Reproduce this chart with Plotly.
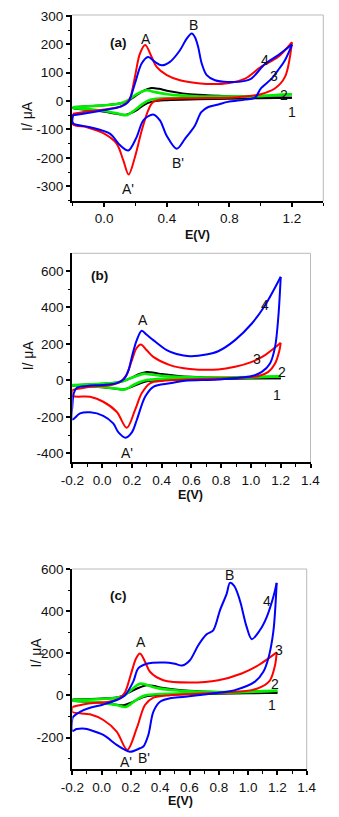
import plotly.graph_objects as go

# ---------------- Panel (a) data ----------------
A1_FWD_E = [-0.2, 0.0, 0.1, 0.15, 0.2, 0.25, 0.3, 0.35, 0.4, 0.5, 0.6, 0.8, 1.0, 1.2]
A1_FWD_I = [-21, -15, -9, 0, 18, 36, 46, 43, 36, 27, 22, 17, 14, 12]
A1_REV_E = [1.2, 1.0, 0.8, 0.6, 0.4, 0.3, 0.25, 0.2, 0.14, 0.08, 0.0, -0.1, -0.2]
A1_REV_I = [12, 10, 8, 6, 3, -3, -15, -35, -48, -45, -38, -31, -25]

A2_FWD_E = [-0.2, 0.0, 0.1, 0.15, 0.2, 0.27, 0.32, 0.4, 0.5, 0.6, 0.8, 1.0, 1.2]
A2_FWD_I = [-22, -15, -9, 2, 22, 38, 32, 24, 19, 16, 16, 18, 24]
A2_REV_E = [1.2, 1.0, 0.8, 0.6, 0.4, 0.3, 0.25, 0.2, 0.143, 0.08, 0.0, -0.1, -0.2]
A2_REV_I = [24, 18, 14, 12, 10, 5, -8, -30, -50, -43, -35, -28, -24]

A3_FWD_E = [-0.2, -0.1, 0.0, 0.1, 0.14, 0.164, 0.196, 0.228, 0.262, 0.303, 0.335, 0.4, 0.484, 0.6, 0.7, 0.79, 0.9, 1.0, 1.11, 1.2]
A3_FWD_I = [-45, -36, -30, -20, -8, 8, 85, 167, 197, 155, 120, 91, 73, 63, 60, 63, 79, 120, 155, 207]
A3_REV_E = [1.2, 1.155, 1.09, 1.0, 0.9, 0.79, 0.58, 0.4, 0.313, 0.281, 0.24, 0.196, 0.156, 0.122, 0.079, 0.0, -0.11, -0.2]
A3_REV_I = [207, 85, 44, 24, 16, 12, 10, 8, -3, -33, -103, -198, -259, -209, -150, -115, -92, -82]

A4_FWD_E = [-0.2, -0.03, 0.11, 0.154, 0.196, 0.239, 0.28, 0.324, 0.367, 0.42, 0.484, 0.527, 0.559, 0.58, 0.6, 0.623, 0.655, 0.708, 0.79, 0.9, 0.94, 1.03, 1.11, 1.2]
A4_FWD_I = [-50, -35, -19, -3, 61, 132, 155, 138, 126, 138, 179, 220, 238, 225, 191, 132, 91, 73, 67, 71, 79, 132, 161, 199]
A4_REV_E = [1.2, 1.155, 1.11, 1.07, 1.0, 0.964, 0.9, 0.79, 0.73, 0.665, 0.62, 0.58, 0.516, 0.463, 0.4, 0.356, 0.313, 0.25, 0.207, 0.154, 0.1, 0.036, -0.09, -0.2]
A4_REV_I = [199, 144, 108, 79, 44, 12, 5, -3, -12, -21, -39, -86, -133, -168, -123, -68, -47, -68, -127, -174, -155, -115, -92, -78]

# ---------------- Panel (b) data ----------------
B1_FWD_E = [-0.2, 0.0, 0.1, 0.15, 0.2, 0.25, 0.3, 0.35, 0.4, 0.5, 0.6, 0.8, 1.0, 1.2]
B1_FWD_I = [-26, -18, -12, -2, 15, 35, 46, 42, 35, 26, 20, 15, 13, 12]
B1_REV_E = [1.2, 1.0, 0.8, 0.6, 0.4, 0.3, 0.25, 0.2, 0.14, 0.08, 0.0, -0.1, -0.2]
B1_REV_I = [12, 10, 8, 6, 2, -5, -18, -35, -49, -45, -38, -32, -28]

B2_FWD_E = [-0.2, 0.0, 0.1, 0.15, 0.2, 0.28, 0.33, 0.4, 0.5, 0.6, 0.8, 1.0, 1.2]
B2_FWD_I = [-25, -18, -12, -2, 15, 36, 32, 25, 20, 17, 16, 18, 22]
B2_REV_E = [1.2, 1.0, 0.8, 0.6, 0.4, 0.3, 0.25, 0.2, 0.154, 0.1, 0.0, -0.1, -0.2]
B2_REV_I = [22, 17, 14, 12, 8, 2, -10, -30, -50, -45, -36, -30, -27]

B3_FWD_E = [-0.2, -0.08, 0.053, 0.12, 0.16, 0.2, 0.23, 0.26, 0.3, 0.344, 0.456, 0.59, 0.78, 0.893, 1.006, 1.095, 1.2]
B3_FWD_I = [-53, -35, -26, -8, 25, 110, 175, 197, 165, 129, 84, 63, 60, 75, 102, 139, 206]
B3_REV_E = [1.2, 1.19, 1.162, 1.117, 1.05, 0.893, 0.557, 0.412, 0.322, 0.266, 0.221, 0.166, 0.098, 0.008, -0.08, -0.2]
B3_REV_I = [206, 160, 93, 47, 24, 14, 5, -2, -16, -71, -163, -260, -172, -117, -90, -84]

B4_FWD_E = [-0.2, -0.19, -0.17, -0.1, 0.0, 0.1, 0.15, 0.178, 0.2, 0.233, 0.266, 0.3, 0.344, 0.434, 0.5, 0.59, 0.7, 0.78, 0.893, 1.006, 1.095, 1.2]
B4_FWD_I = [-145, -70, -40, -30, -25, -15, 10, 56, 129, 221, 272, 250, 221, 166, 145, 133, 142, 160, 221, 312, 412, 568]
B4_REV_E = [1.2, 1.184, 1.162, 1.128, 1.073, 1.006, 0.78, 0.557, 0.456, 0.344, 0.289, 0.233, 0.2, 0.158, 0.11, 0.075, 0.008, -0.08, -0.148, -0.2]
B4_REV_I = [568, 349, 184, 93, 47, 24, 5, -2, -16, -35, -90, -217, -285, -314, -285, -236, -194, -175, -181, -215]

# ---------------- Panel (c) data ----------------
C1_FWD_E = [-0.2, 0.0, 0.1, 0.15, 0.2, 0.25, 0.31, 0.36, 0.4, 0.5, 0.6, 0.8, 1.0, 1.2]
C1_FWD_I = [-20, -15, -10, 0, 18, 35, 48, 44, 38, 28, 22, 16, 13, 12]
C1_REV_E = [1.2, 1.0, 0.8, 0.6, 0.4, 0.3, 0.25, 0.2, 0.15, 0.08, 0.0, -0.1, -0.2]
C1_REV_I = [12, 10, 8, 6, 2, -5, -18, -35, -47, -42, -35, -30, -25]

C2_FWD_E = [-0.2, 0.0, 0.1, 0.15, 0.2, 0.26, 0.3, 0.35, 0.4, 0.5, 0.6, 0.8, 1.0, 1.2]
C2_FWD_I = [-22, -17, -12, -2, 25, 55, 52, 40, 32, 24, 19, 16, 18, 22]
C2_REV_E = [1.2, 1.0, 0.8, 0.6, 0.4, 0.3, 0.25, 0.2, 0.165, 0.1, 0.0, -0.1, -0.2]
C2_REV_I = [22, 16, 12, 10, 6, 0, -15, -40, -55, -45, -36, -29, -25]

C3_FWD_E = [-0.2, -0.1, 0.05, 0.12, 0.16, 0.2, 0.235, 0.262, 0.3, 0.33, 0.421, 0.603, 0.797, 0.956, 1.07, 1.195]
C3_FWD_I = [-55, -40, -30, -15, 15, 100, 175, 199, 155, 112, 72, 61, 72, 104, 143, 204]
C3_REV_E = [1.195, 1.184, 1.15, 1.093, 1.025, 0.797, 0.57, 0.467, 0.353, 0.296, 0.24, 0.175, 0.103, 0.012, -0.079, -0.2]
C3_REV_I = [204, 143, 72, 41, 25, 12, 5, 1, -11, -46, -156, -259, -172, -117, -90, -78]

C4_FWD_E = [-0.2, -0.193, -0.147, -0.079, 0.012, 0.103, 0.16, 0.216, 0.25, 0.308, 0.43, 0.5, 0.55, 0.603, 0.66, 0.717, 0.762, 0.808, 0.854, 0.876, 0.905, 0.933, 0.95, 0.99, 1.025, 1.08, 1.127, 1.172, 1.195]
C4_FWD_I = [-110, -101, -78, -59, -43, -22, 1, 65, 128, 150, 156, 150, 142, 167, 238, 290, 309, 404, 483, 534, 520, 475, 436, 325, 267, 309, 372, 467, 534]
C4_REV_E = [1.195, 1.172, 1.138, 1.104, 1.047, 0.91, 0.797, 0.57, 0.467, 0.399, 0.353, 0.319, 0.285, 0.262, 0.194, 0.15, 0.103, 0.012, -0.079, -0.113, -0.17, -0.2]
C4_REV_I = [534, 301, 175, 112, 65, 25, 12, -7, -14, -30, -78, -188, -243, -251, -268, -255, -235, -188, -164, -158, -160, -168]

# ---------------- Ticks ----------------
A_XTICKS = [0.0, 0.4, 0.8, 1.2]
A_XTEXT = ["0.0", "0.4", "0.8", "1.2"]
A_YTICKS = [-300, -200, -100, 0, 100, 200, 300]
A_YTEXT = ["-300", "-200", "-100", "0", "100", "200", "300"]
BC_XTICKS = [-0.2, 0.0, 0.2, 0.4, 0.6, 0.8, 1.0, 1.2, 1.4]
BC_XTEXT = ["-0.2", "0.0", "0.2", "0.4", "0.6", "0.8", "1.0", "1.2", "1.4"]
B_YTICKS = [-400, -200, 0, 200, 400, 600]
B_YTEXT = ["-400", "-200", "0", "200", "400", "600"]
C_YTICKS = [-200, 0, 200, 400, 600]
C_YTEXT = ["-200", "0", "200", "400", "600"]

COLORS = {1: "#000000", 2: "#00ee00", 3: "#ff0000", 4: "#0000ff"}
WIDTHS = {1: 2, 2: 2.6, 3: 2, 4: 2}
FONT = "Liberation Sans, Arial, sans-serif"

W, H = 339, 817
fig = go.Figure()

panels = {
    "a": dict(xa="x", ya="y",
              curves={1: (A1_FWD_E, A1_FWD_I, A1_REV_E, A1_REV_I),
                      2: (A2_FWD_E, A2_FWD_I, A2_REV_E, A2_REV_I),
                      3: (A3_FWD_E, A3_FWD_I, A3_REV_E, A3_REV_I),
                      4: (A4_FWD_E, A4_FWD_I, A4_REV_E, A4_REV_I)}),
    "b": dict(xa="x2", ya="y2",
              curves={1: (B1_FWD_E, B1_FWD_I, B1_REV_E, B1_REV_I),
                      2: (B2_FWD_E, B2_FWD_I, B2_REV_E, B2_REV_I),
                      3: (B3_FWD_E, B3_FWD_I, B3_REV_E, B3_REV_I),
                      4: (B4_FWD_E, B4_FWD_I, B4_REV_E, B4_REV_I)}),
    "c": dict(xa="x3", ya="y3",
              curves={1: (C1_FWD_E, C1_FWD_I, C1_REV_E, C1_REV_I),
                      2: (C2_FWD_E, C2_FWD_I, C2_REV_E, C2_REV_I),
                      3: (C3_FWD_E, C3_FWD_I, C3_REV_E, C3_REV_I),
                      4: (C4_FWD_E, C4_FWD_I, C4_REV_E, C4_REV_I)}),
}

for key, p in panels.items():
    for n in [1, 2, 3, 4]:
        fe, fi, re_, ri = p["curves"][n]
        line = dict(color=COLORS[n], width=WIDTHS[n], shape="spline", smoothing=0.9)
        fig.add_trace(go.Scatter(x=fe, y=fi, mode="lines", line=line,
                                 xaxis=p["xa"], yaxis=p["ya"], showlegend=False, hoverinfo="skip"))
        fig.add_trace(go.Scatter(x=re_ + [fe[0]], y=ri + [fi[0]], mode="lines", line=line,
                                 xaxis=p["xa"], yaxis=p["ya"], showlegend=False, hoverinfo="skip"))

TICKFONT = dict(family=FONT, size=13.5, color="#111")

def xaxis(domain, rng, tv, tt, minor_dtick, anchor):
    return dict(domain=domain, range=rng, anchor=anchor, tickvals=tv, ticktext=tt,
                showline=True, linecolor="black", linewidth=2, ticks="outside",
                ticklen=4, tickwidth=1.5, tickcolor="black", showgrid=False, zeroline=False,
                tickfont=TICKFONT, automargin=False,
                minor=dict(dtick=minor_dtick, ticks="outside", ticklen=3, tickwidth=1.2,
                           tickcolor="black", showgrid=False))

def yaxis(domain, rng, tv, tt, minor_dtick, anchor):
    return dict(domain=domain, range=rng, anchor=anchor, tickvals=tv, ticktext=tt,
                showline=True, linecolor="black", linewidth=2, ticks="outside",
                ticklen=4, tickwidth=1.5, tickcolor="black", showgrid=False, zeroline=False,
                tickfont=TICKFONT, automargin=False,
                minor=dict(dtick=minor_dtick, ticks="outside", ticklen=2.5, tickwidth=1.2,
                           tickcolor="black", showgrid=False))

dom = {
    "a": ([72 / W, 323.3 / W], [1 - 201 / H, 1 - 15 / H]),
    "b": ([72.3 / W, 310.5 / W], [1 - 462.3 / H, 1 - 253.3 / H]),
    "c": ([72.3 / W, 306.7 / W], [1 - 769.3 / H, 1 - 569 / H]),
}

fig.update_layout(
    width=W, height=H, margin=dict(l=0, r=0, t=0, b=0, pad=0),
    paper_bgcolor="white", plot_bgcolor="white",
    xaxis=xaxis(dom["a"][0], [-0.206, 1.4], A_XTICKS, A_XTEXT, 0.2, "y"),
    yaxis=yaxis(dom["a"][1], [-352, 303], A_YTICKS, A_YTEXT, 50, "x"),
    xaxis2=xaxis(dom["b"][0], [-0.2, 1.4], BC_XTICKS, BC_XTEXT, 0.1, "y2"),
    yaxis2=yaxis(dom["b"][1], [-449, 697], B_YTICKS, B_YTEXT, 100, "x2"),
    xaxis3=xaxis(dom["c"][0], [-0.2, 1.4], BC_XTICKS, BC_XTEXT, 0.1, "y3"),
    yaxis3=yaxis(dom["c"][1], [-351, 600], C_YTICKS, C_YTEXT, 100, "x3"),
)

# light grey top/right frame
for xr, yr in [("x domain", "y domain"), ("x2 domain", "y2 domain"), ("x3 domain", "y3 domain")]:
    fig.add_shape(type="line", xref=xr, yref=yr, x0=0, x1=1, y0=1, y1=1,
                  line=dict(color="#bbbbbb", width=1), layer="below")
    fig.add_shape(type="line", xref=xr, yref=yr, x0=1, x1=1, y0=0, y1=1,
                  line=dict(color="#bbbbbb", width=1), layer="below")

def ann(text, x, y, xref, yref, size=14, bold=False, angle=0):
    fig.add_annotation(text=("<b>%s</b>" % text) if bold else text, x=x, y=y,
                       xref=xref, yref=yref, showarrow=False, textangle=angle,
                       font=dict(family=FONT, size=size, color="#111"),
                       xanchor="center", yanchor="middle")

# panel (a) labels
for t, x, y in [("A", 0.265, 217), ("B", 0.573, 267), ("A'", 0.15, -309), ("B'", 0.47, -219),
                ("4", 1.03, 144), ("3", 1.085, 87), ("2", 1.15, 20), ("1", 1.2, -39)]:
    ann(t, x, y, "x", "y")
ann("(a)", 0.09, 205, "x", "y", size=13.5, bold=True)
# panel (b) labels
for t, x, y in [("A", 0.277, 334), ("A'", 0.166, -397), ("4", 1.095, 416), ("3", 1.04, 117),
                ("2", 1.207, 44), ("1", 1.173, -81)]:
    ann(t, x, y, "x2", "y2")
ann("(b)", -0.014, 577, "x2", "y2", size=13.5, bold=True)
# panel (c) labels
for t, x, y in [("A", 0.267, 254), ("B", 0.876, 573), ("A'", 0.167, -315), ("B'", 0.29, -296),
                ("4", 1.131, 447), ("3", 1.213, 215), ("2", 1.184, 54), ("1", 1.161, -46)]:
    ann(t, x, y, "x3", "y3")
ann("(c)", 0.114, 475, "x3", "y3", size=13.5, bold=True)

# axis titles
for x, y in [(27, 116), (28.3, 355), (35, 652.5)]:
    ann("I/ μA", x / W, 1 - y / H, "paper", "paper", size=14, angle=-90)
for x, y in [(197, 235), (190, 495), (180, 800.5)]:
    ann("E(V)", x / W, 1 - y / H, "paper", "paper", size=12.5, bold=True)

fig.write_html("out.html", config={"displayModeBar": False},
               post_script="document.body.style.margin='0';document.body.style.overflow='hidden';")
